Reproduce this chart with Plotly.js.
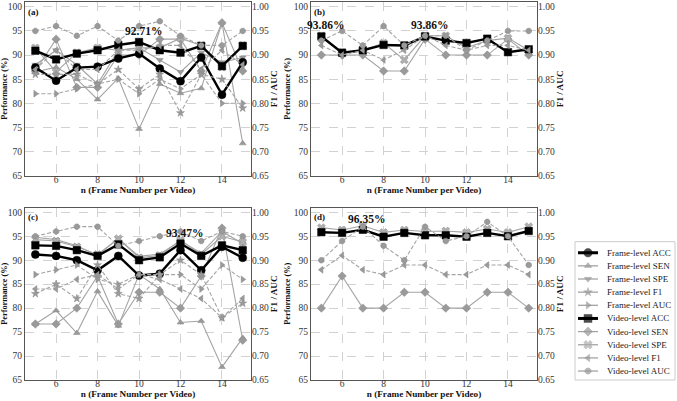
<!DOCTYPE html>
<html><head><meta charset="utf-8">
<script src="https://cdn.plot.ly/plotly-3.0.1.min.js"></script>
<style>html,body{margin:0;padding:0;background:#fff}#chart{width:677px;height:401px}</style>
</head><body><div id="chart"></div>
<script>
// ---------------- DATA ----------------
const frames = [5, 6, 7, 8, 9, 10, 11, 12, 13, 14, 15];
const xTicks = [6, 8, 10, 12, 14];
const leftTicks = [65, 70, 75, 80, 85, 90, 95, 100];
const rightTicks = [0.65, 0.70, 0.75, 0.80, 0.85, 0.90, 0.95, 1.00];
const seriesNames = ['Frame-level ACC', 'Frame-level SEN', 'Frame-level SPE', 'Frame-level F1', 'Frame-level AUC',
                     'Video-level ACC', 'Video-level SEN', 'Video-level SPE', 'Video-level F1', 'Video-level AUC'];
const panelLabels = ['(a)', '(b)', '(c)', '(d)'];

// Panel (a)
const a_frameACC = [87.4, 84.7, 87.4, 87.6, 89.3, 90.3, 87.2, 84.6, 89.5, 81.8, 88.5];
const a_frameSEN = [86.5, 87.5, 85.0, 80.8, 85.2, 74.7, 84.0, 82.1, 83.1, 96.7, 71.7];
const a_frameSPE = [88.0, 91.0, 88.0, 84.0, 91.0, 91.5, 89.0, 86.5, 90.5, 88.5, 89.5];
const a_frameF1  = [0.86, 0.86, 0.86, 0.84, 0.87, 0.83, 0.86, 0.78, 0.86, 0.85, 0.79];
const a_frameAUC = [0.82, 0.82, 0.83, 0.84, 0.85, 0.82, 0.85, 0.83, 0.86, 0.80, 0.80];
const a_videoACC = [90.9, 89.1, 90.3, 91.0, 92.1, 92.71, 91.0, 90.5, 91.9, 87.7, 91.9];
const a_videoSEN = [86.7, 93.3, 83.3, 83.3, 90.0, 90.0, 93.3, 93.3, 86.7, 96.7, 86.7];
const a_videoSPE = [91.5, 86.5, 90.5, 91.5, 91.0, 91.5, 91.5, 93.5, 92.0, 87.5, 92.0];
const a_videoF1  = [0.87, 0.91, 0.87, 0.87, 0.91, 0.91, 0.92, 0.92, 0.87, 0.91, 0.88];
const a_videoAUC = [0.95, 0.96, 0.94, 0.96, 0.93, 0.96, 0.97, 0.94, 0.92, 0.92, 0.95];

// Panel (b)
const b_videoACC = [93.86, 90.5, 91.0, 92.1, 92.0, 93.86, 93.0, 92.5, 93.4, 90.6, 91.2];
const b_videoSEN = [90.0, 90.0, 90.0, 86.7, 86.7, 93.3, 90.0, 90.0, 90.0, 93.3, 90.0];
const b_videoSPE = [94.0, 90.5, 91.0, 92.5, 89.0, 94.0, 94.0, 91.5, 93.0, 93.5, 91.0];
const b_videoF1  = [0.92, 0.90, 0.91, 0.89, 0.91, 0.94, 0.92, 0.91, 0.92, 0.92, 0.91];
const b_videoAUC = [0.93, 0.95, 0.92, 0.96, 0.92, 0.94, 0.94, 0.91, 0.93, 0.95, 0.95];

// Panel (c)
const c_frameACC = [91.2, 90.9, 90.0, 87.9, 90.9, 86.8, 87.2, 92.1, 87.9, 92.8, 90.5];
const c_frameSEN = [76.7, 79.5, 74.8, 83.5, 76.3, 87.0, 84.0, 77.0, 77.3, 67.7, 73.8];
const c_frameSPE = [94.8, 94.3, 93.0, 91.0, 94.5, 90.8, 91.3, 94.0, 91.5, 96.0, 93.5];
const c_frameF1  = [0.83, 0.85, 0.82, 0.89, 0.83, 0.82, 0.87, 0.90, 0.87, 0.78, 0.81];
const c_frameAUC = [0.87, 0.88, 0.89, 0.86, 0.85, 0.87, 0.87, 0.87, 0.84, 0.89, 0.86];
const c_videoACC = [93.1, 93.0, 92.1, 90.9, 93.3, 90.0, 90.6, 93.47, 90.9, 93.1, 92.1];
const c_videoSEN = [76.7, 76.7, 80.0, 86.7, 76.7, 83.3, 83.3, 80.0, 86.7, 96.7, 73.3];
const c_videoSPE = [94.3, 94.0, 92.8, 91.2, 94.5, 90.5, 91.0, 94.2, 91.2, 95.0, 93.8];
const c_videoF1  = [0.84, 0.84, 0.86, 0.87, 0.84, 0.87, 0.86, 0.84, 0.82, 0.78, 0.82];
const c_videoAUC = [0.95, 0.96, 0.97, 0.97, 0.93, 0.94, 0.95, 0.96, 0.94, 0.96, 0.95];

// Panel (d)
const d_videoACC = [95.85, 95.7, 96.35, 94.9, 95.7, 95.2, 95.2, 94.9, 95.7, 95.0, 96.1];
const d_videoSEN = [80.0, 86.7, 80.0, 80.0, 83.3, 83.3, 80.0, 80.0, 83.3, 83.3, 80.0];
const d_videoSPE = [96.8, 96.3, 97.2, 95.8, 96.3, 96.0, 96.1, 95.8, 96.5, 95.8, 97.0];
const d_videoF1  = [0.88, 0.91, 0.88, 0.87, 0.89, 0.89, 0.87, 0.87, 0.89, 0.89, 0.87];
const d_videoAUC = [0.90, 0.94, 0.97, 0.93, 0.90, 0.97, 0.94, 0.95, 0.98, 0.95, 0.89];

// ---------------- STYLE ----------------
const FONT = 'Liberation Serif, Times New Roman, serif';
const GRAY = '#a4a4a4';
const MGRAY = '#9a9a9a';
const DASH = '4px,2px';
const styles = {
  'Frame-level ACC': {symbol: 'circle', dash: 'solid', color: '#000', mcolor: '#000', width: 2.4, size: 8, right: false},
  'Frame-level SEN': {symbol: 'triangle-up', dash: 'solid', color: GRAY, mcolor: MGRAY, width: 1.1, size: 6, right: false},
  'Frame-level SPE': {symbol: 'triangle-down', dash: 'solid', color: GRAY, mcolor: MGRAY, width: 1.1, size: 6, right: false},
  'Frame-level F1':  {symbol: 'star', dash: DASH, color: GRAY, mcolor: MGRAY, width: 1.1, size: 6, right: true},
  'Frame-level AUC': {symbol: 'triangle-right', dash: DASH, color: GRAY, mcolor: MGRAY, width: 1.1, size: 6, right: true},
  'Video-level ACC': {symbol: 'square', dash: 'solid', color: '#000', mcolor: '#000', width: 2.4, size: 7.5, right: false},
  'Video-level SEN': {symbol: 'diamond', dash: 'solid', color: GRAY, mcolor: MGRAY, width: 1.1, size: 6.5, right: false},
  'Video-level SPE': {symbol: 'x', dash: 'solid', color: GRAY, mcolor: '#b0b0b0', width: 1.1, size: 7, right: false},
  'Video-level F1':  {symbol: 'triangle-left', dash: DASH, color: GRAY, mcolor: MGRAY, width: 1.1, size: 6, right: true},
  'Video-level AUC': {symbol: 'octagon', dash: DASH, color: GRAY, mcolor: MGRAY, width: 1.1, size: 6, right: true}
};

const panels = [
  {x: 'x', y: 'y', yr: 'y5', series: {
    'Frame-level ACC': a_frameACC, 'Frame-level SEN': a_frameSEN, 'Frame-level SPE': a_frameSPE,
    'Frame-level F1': a_frameF1, 'Frame-level AUC': a_frameAUC,
    'Video-level ACC': a_videoACC, 'Video-level SEN': a_videoSEN, 'Video-level SPE': a_videoSPE,
    'Video-level F1': a_videoF1, 'Video-level AUC': a_videoAUC}},
  {x: 'x2', y: 'y2', yr: 'y6', series: {
    'Video-level ACC': b_videoACC, 'Video-level SEN': b_videoSEN, 'Video-level SPE': b_videoSPE,
    'Video-level F1': b_videoF1, 'Video-level AUC': b_videoAUC}},
  {x: 'x3', y: 'y3', yr: 'y7', series: {
    'Frame-level ACC': c_frameACC, 'Frame-level SEN': c_frameSEN, 'Frame-level SPE': c_frameSPE,
    'Frame-level F1': c_frameF1, 'Frame-level AUC': c_frameAUC,
    'Video-level ACC': c_videoACC, 'Video-level SEN': c_videoSEN, 'Video-level SPE': c_videoSPE,
    'Video-level F1': c_videoF1, 'Video-level AUC': c_videoAUC}},
  {x: 'x4', y: 'y4', yr: 'y8', series: {
    'Video-level ACC': d_videoACC, 'Video-level SEN': d_videoSEN, 'Video-level SPE': d_videoSPE,
    'Video-level F1': d_videoF1, 'Video-level AUC': d_videoAUC}}
];

// draw order: gray first, black on top
const drawOrder = ['Frame-level SEN', 'Frame-level SPE', 'Frame-level F1', 'Frame-level AUC',
  'Video-level SEN', 'Video-level SPE', 'Video-level F1', 'Video-level AUC', 'Frame-level ACC', 'Video-level ACC'];

const traces = [];
const annotations = [];
panels.forEach((p, pi) => {
  drawOrder.forEach(name => {
    const vals = p.series[name];
    if (!vals) return;
    const s = styles[name];
    traces.push({
      type: 'scatter', mode: 'lines+markers', name: name, showlegend: false,
      x: frames, y: vals, xaxis: p.x, yaxis: s.right ? p.yr : p.y,
      line: {color: s.color, width: s.width, dash: s.dash},
      marker: {symbol: s.symbol, size: s.size, color: s.mcolor, line: {color: s.color === '#000' ? '#000' : '#888', width: 0.5}},
      cliponaxis: false
    });
  });
  // peak annotation for video-level ACC
  const v = p.series['Video-level ACC'];
  const mx = Math.max(...v);
  v.forEach((val, i) => {
    if (val === mx) {
      annotations.push({xref: p.x, yref: p.y, x: frames[i], y: val, text: '<b>' + val.toFixed(2) + '%</b>',
        showarrow: false, yanchor: 'bottom', yshift: 3, xshift: 4, font: {family: FONT, size: 11.5, color: '#111'}});
    }
  });
  annotations.push({xref: p.x + ' domain', yref: p.y + ' domain', x: 0.005, y: 0.985, xanchor: 'left', yanchor: 'top',
    text: '<b>' + panelLabels[pi] + '</b>', showarrow: false, font: {family: FONT, size: 9, color: '#111'}});
});

// ---------------- LEGEND (drawn as a small keyed panel) ----------------
seriesNames.forEach((name, i) => {
  const s = styles[name];
  const yc = 11 + i * 13.15;
  traces.push({
    type: 'scatter', mode: 'lines+markers', showlegend: false, hoverinfo: 'skip',
    x: [3, 13, 23], y: [yc, yc, yc], xaxis: 'x5', yaxis: 'y9',
    line: {color: s.color, width: s.color === '#000' ? 3 : 1.3, dash: 'solid'},
    marker: {symbol: s.symbol, size: [0, s.size + 0.5, 0], color: s.mcolor, line: {color: s.color === '#000' ? '#000' : '#888', width: [0, 0.5, 0]}}
  });
  annotations.push({xref: 'x5', yref: 'y9', x: 30, y: yc, xanchor: 'left', yanchor: 'middle', text: name,
    showarrow: false, font: {family: FONT, size: 9, color: '#222'}});
});

// ---------------- LAYOUT ----------------
const W = 677, H = 401;
const colA = [25 / W, 251 / W], colB = [311 / W, 537 / W];
const rowTop = [1 - 175.7 / H, 1 - 2 / H], rowBot = [1 - 380 / H, 1 - 207.5 / H];

function xAxis(dom, anchor) {
  return {domain: dom, anchor: anchor, range: [4.5, 15.4], tickvals: xTicks, ticks: '',
    showgrid: true, gridcolor: '#d2d2d2', griddash: 'dash', gridwidth: 1, zeroline: false,
    showline: true, linecolor: '#555', linewidth: 1, mirror: true, ticklabelstandoff: -5,
    tickfont: {family: FONT, size: 9.5, color: '#333'},
    title: {text: '<b>n (Frame Number per Video)</b>', font: {family: FONT, size: 9.2, color: '#111'}, standoff: 0}};
}
function yAxis(dom, anchor) {
  return {domain: dom, anchor: anchor, range: [65, 101], tickvals: leftTicks, ticks: '',
    showgrid: true, gridcolor: '#d2d2d2', griddash: 'dash', gridwidth: 1, zeroline: false,
    showline: true, linecolor: '#555', linewidth: 1, mirror: true,
    tickfont: {family: FONT, size: 9.5, color: '#333'},
    title: {text: '<b>Performance (%)</b>', font: {family: FONT, size: 8.3, color: '#111'}, standoff: 1}};
}
function yRight(over, anchor) {
  return {overlaying: over, anchor: anchor, side: 'right', range: [0.65, 1.01], tickvals: rightTicks,
    tickformat: '.2f', ticks: '', showgrid: false, zeroline: false, showline: false,
    tickfont: {family: FONT, size: 9.5, color: '#333'},
    title: {text: '<b>F1 / AUC</b>', font: {family: FONT, size: 9.2, color: '#111'}, standoff: 0}};
}

const layout = {
  width: W, height: H, margin: {l: 0, r: 0, t: 0, b: 0}, paper_bgcolor: '#fff', plot_bgcolor: '#fff',
  font: {family: FONT, color: '#222'}, showlegend: false,
  xaxis: xAxis(colA, 'y'), yaxis: yAxis(rowTop, 'x'),
  xaxis2: xAxis(colB, 'y2'), yaxis2: yAxis(rowTop, 'x2'),
  xaxis3: xAxis(colA, 'y3'), yaxis3: yAxis(rowBot, 'x3'),
  xaxis4: xAxis(colB, 'y4'), yaxis4: yAxis(rowBot, 'x4'),
  yaxis5: yRight('y', 'x'), yaxis6: yRight('y2', 'x2'), yaxis7: yRight('y3', 'x3'), yaxis8: yRight('y4', 'x4'),
  xaxis5: {domain: [575 / W, 675 / W], anchor: 'y9', range: [0, 100], visible: false, fixedrange: true},
  yaxis9: {domain: [1 - 380 / H, 1 - 241.7 / H], anchor: 'x5', range: [138.3, 0], visible: false, fixedrange: true},
  shapes: [{type: 'rect', xref: 'paper', yref: 'paper', x0: 575 / W, x1: 675 / W, y0: 1 - 380 / H, y1: 1 - 241.7 / H,
    line: {color: '#cccccc', width: 1}, fillcolor: 'rgba(255,255,255,0.8)', layer: 'below'}],
  annotations: annotations
};

Plotly.newPlot('chart', traces, layout, {staticPlot: true, displayModeBar: false});
</script></body></html>
